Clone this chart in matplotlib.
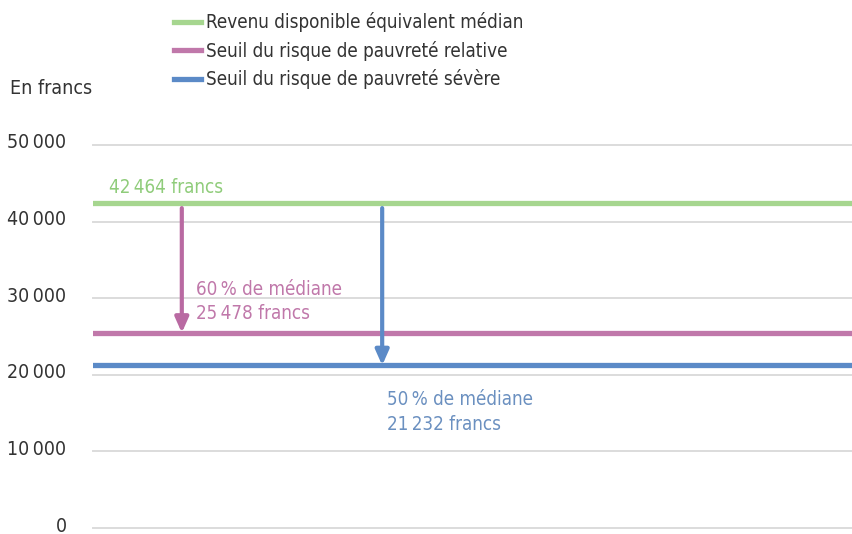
import matplotlib.pyplot as plt
from matplotlib.transforms import ScaledTranslation

# Valeurs
mediane = 42464
seuil_relatif = 25478
seuil_severe = 21232
y_ticks = [0, 10000, 20000, 30000, 40000, 50000]
y_tick_labels = ['0', '10\u2009000', '20\u2009000', '30\u2009000', '40\u2009000', '50\u2009000']
noms = ['Revenu disponible équivalent médian',
        'Seuil du risque de pauvreté relative',
        'Seuil du risque de pauvreté sévère']

vert = '#a6d68f'
rose = '#c078aa'
bleu = '#5b8ac7'
gris = '#333333'

plt.rcParams['font.family'] = ['DejaVu Sans']
plt.rcParams['font.stretch'] = 'condensed'

fig = plt.figure(figsize=(8.52, 5.34), dpi=100)
ax = fig.add_axes([93 / 852, 6 / 534, 759 / 852, 383 / 534])
ax.set_xlim(0, 1)
ax.set_ylim(0, 50000)

# Grille
for t in y_ticks:
    ax.axhline(t, color='#dcdcdc', lw=1.4, zorder=1, clip_on=False)

# Lignes horizontales
l1 = ax.axhline(mediane, color=vert, lw=3.8, zorder=3, label=noms[0])
l2 = ax.axhline(seuil_relatif, color=rose, lw=3.8, zorder=3, label=noms[1])
l3 = ax.axhline(seuil_severe, color=bleu, lw=3.8, zorder=3, label=noms[2])

# Flèches
x_fleche_rose = 0.117
x_fleche_bleu = 0.381
ax.annotate('', xy=(x_fleche_rose, seuil_relatif), xytext=(x_fleche_rose, mediane - 700),
            arrowprops=dict(arrowstyle='-|>,head_length=0.9,head_width=0.4', color='#b96aa2', lw=3,
                            shrinkA=0, shrinkB=0), zorder=4)
ax.annotate('', xy=(x_fleche_bleu, seuil_severe), xytext=(x_fleche_bleu, mediane - 700),
            arrowprops=dict(arrowstyle='-|>,head_length=0.9,head_width=0.4', color=bleu, lw=3,
                            shrinkA=0, shrinkB=0), zorder=4)

# Textes
ax.text(0.021, mediane + 800, '42\u2009464 francs', color='#8fcc7a', fontsize=13.5,
        va='bottom', ha='left')
ax.text(0.136, seuil_relatif + 1300, '60\u2009% de médiane\n25\u2009478 francs', color=rose,
        fontsize=13.5, va='bottom', ha='left', linespacing=1.3)
ax.text(0.388, seuil_severe - 3200, '50\u2009% de médiane\n21\u2009232 francs', color='#6b90c0',
        fontsize=13.5, va='top', ha='left', linespacing=1.38)

ax.set_yticks(y_ticks)
ax.set_yticklabels(y_tick_labels, fontsize=14, color=gris)
ax.tick_params(axis='y', length=0, pad=19)
decalage = ScaledTranslation(0, 4 / 100, fig.dpi_scale_trans)
for lab in ax.get_yticklabels():
    lab.set_transform(lab.get_transform() + decalage)
ax.set_xticks([])
for s in ax.spines.values():
    s.set_visible(False)

fig.text(10 / 852, 1 - 88 / 534, 'En francs', fontsize=14, color=gris, va='center', ha='left')

fig.legend(handles=[l1, l2, l3], labels=noms, loc='upper left',
           bbox_to_anchor=(166 / 852, 1 - 5 / 534), frameon=False, fontsize=13.5,
           handlelength=1.45, handletextpad=0.3, labelspacing=0.45, borderaxespad=0,
           labelcolor=gris)

fig.savefig('out.png', dpi=100)
